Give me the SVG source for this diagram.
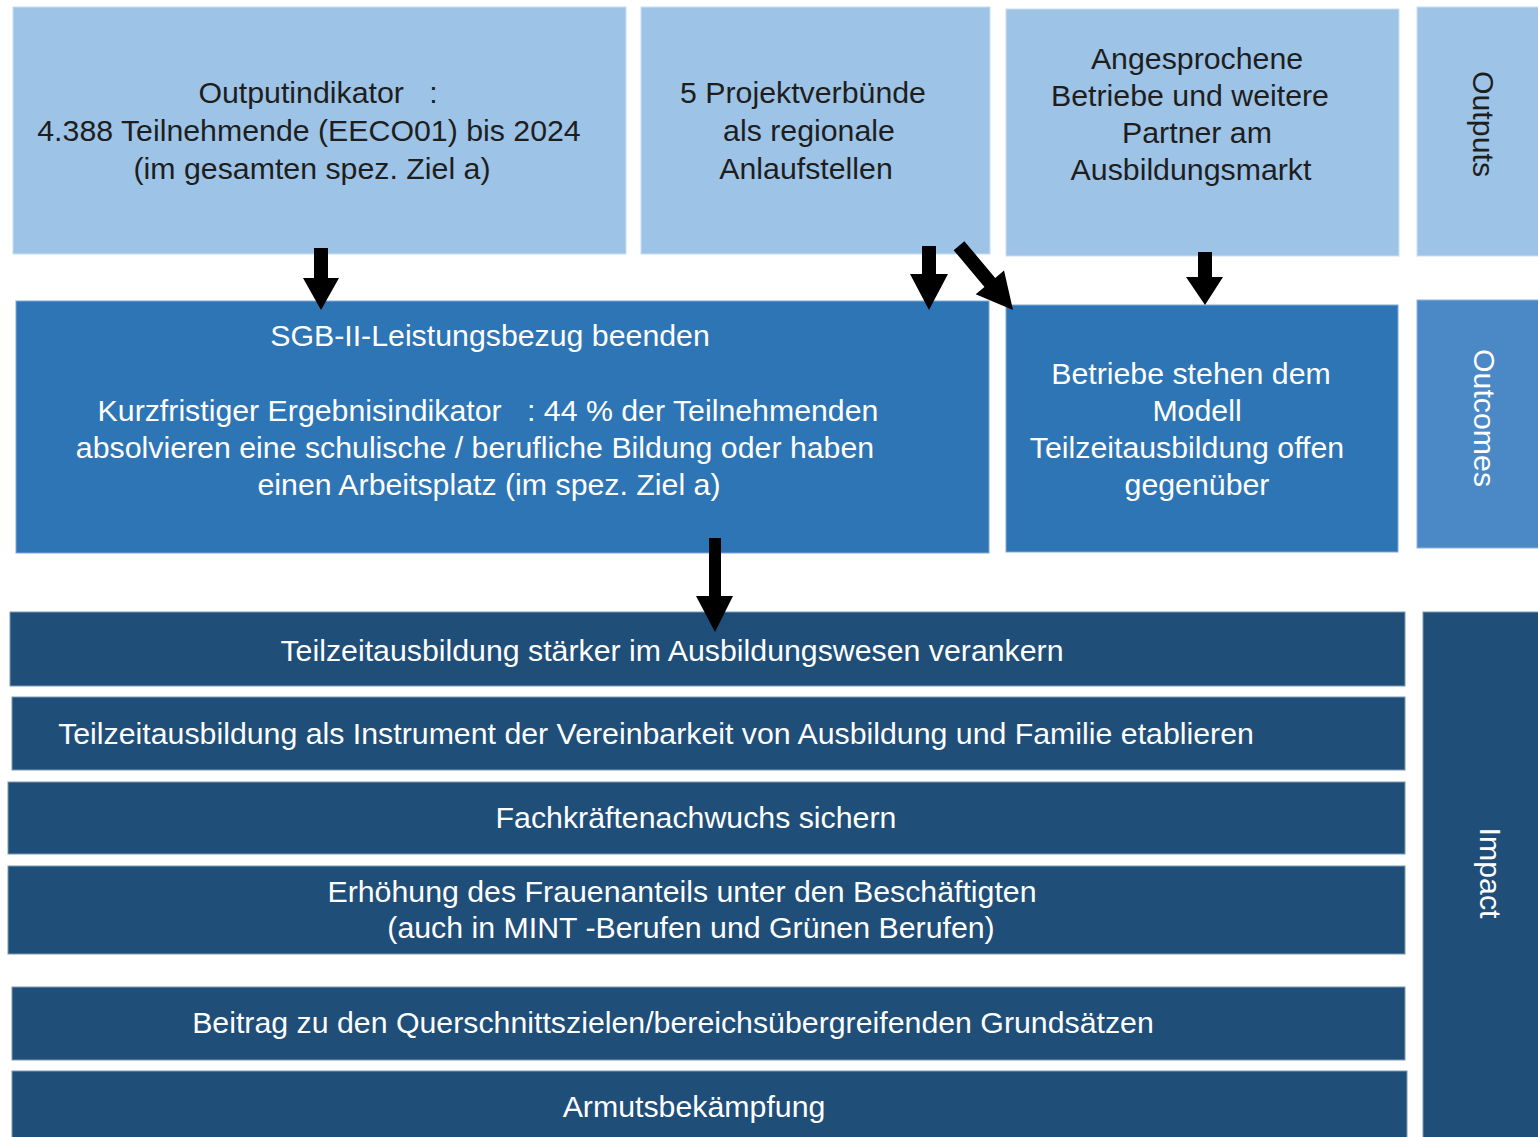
<svg xmlns="http://www.w3.org/2000/svg" width="1538" height="1137" viewBox="0 0 1538 1137">
  <style>
    .out { fill: #9dc3e6; stroke: #c9def2; stroke-width: 1; }
    .oc { fill: #2e75b6; stroke: #7fa9d6; stroke-width: 1; }
    .oclabel { fill: #4a89c6; stroke: #8cb3dc; stroke-width: 1; }
    .imp { fill: #1f4e79; stroke: #7d9ab6; stroke-width: 1; }
    text { font-family: "Liberation Sans", Arial, sans-serif; font-size: 30.3px; text-anchor: middle; white-space: pre; }
    .dark { fill: #1e1e1e; }
    .light { fill: #ffffff; }
    .arrow { fill: #000000; }
  </style>

  <!-- Outputs row -->
  <g id="output-indicator">
    <rect class="out" x="13" y="7" width="613" height="247"/>
    <text class="dark" x="318" y="103" xml:space="preserve">Outputindikator   :</text>
    <text class="dark" x="309" y="141">4.388 Teilnehmende (EECO01) bis 2024</text>
    <text class="dark" x="312" y="179">(im gesamten spez. Ziel a)</text>
  </g>
  <g id="projektverbuende">
    <rect class="out" x="641" y="7" width="349" height="247"/>
    <text class="dark" x="803" y="103">5 Projektverbünde</text>
    <text class="dark" x="809" y="141">als regionale</text>
    <text class="dark" x="806" y="179">Anlaufstellen</text>
  </g>
  <g id="angesprochene-betriebe">
    <rect class="out" x="1006" y="9" width="393" height="247"/>
    <text class="dark" x="1197" y="69">Angesprochene</text>
    <text class="dark" x="1190" y="106">Betriebe und weitere</text>
    <text class="dark" x="1197" y="143">Partner am</text>
    <text class="dark" x="1191" y="180">Ausbildungsmarkt</text>
  </g>
  <g id="label-outputs">
    <rect class="out" x="1417" y="7" width="125" height="249"/>
    <text class="dark" transform="translate(1473,124) rotate(90)">Outputs</text>
  </g>

  <!-- Outcomes row -->
  <g id="sgb-ii">
    <rect class="oc" x="16" y="301" width="973" height="252"/>
    <text class="light" x="490" y="346">SGB-II-Leistungsbezug beenden</text>
    <text class="light" x="488" y="421" xml:space="preserve">Kurzfristiger Ergebnisindikator   : 44 % der Teilnehmenden</text>
    <text class="light" x="475" y="458">absolvieren eine schulische / berufliche Bildung oder haben</text>
    <text class="light" x="489" y="495">einen Arbeitsplatz (im spez. Ziel a)</text>
  </g>
  <g id="betriebe-offen">
    <rect class="oc" x="1006" y="305" width="392" height="247"/>
    <text class="light" x="1191" y="384">Betriebe stehen dem</text>
    <text class="light" x="1197" y="421">Modell</text>
    <text class="light" x="1187" y="458">Teilzeitausbildung offen</text>
    <text class="light" x="1197" y="495">gegenüber</text>
  </g>
  <g id="label-outcomes">
    <rect class="oclabel" x="1417" y="300" width="125" height="248"/>
    <text class="light" transform="translate(1474,418) rotate(90)">Outcomes</text>
  </g>

  <!-- Impact rows -->
  <g id="impact-1">
    <rect class="imp" x="10" y="612" width="1395" height="74"/>
    <text class="light" x="672" y="661">Teilzeitausbildung stärker im Ausbildungswesen verankern</text>
  </g>
  <g id="impact-2">
    <rect class="imp" x="12" y="697" width="1393" height="73"/>
    <text class="light" x="656" y="744">Teilzeitausbildung als Instrument der Vereinbarkeit von Ausbildung und Familie etablieren</text>
  </g>
  <g id="impact-3">
    <rect class="imp" x="8" y="782" width="1397" height="72"/>
    <text class="light" x="696" y="828">Fachkräftenachwuchs sichern</text>
  </g>
  <g id="impact-4">
    <rect class="imp" x="8" y="866" width="1397" height="88"/>
    <text class="light" x="682" y="902">Erhöhung des Frauenanteils unter den Beschäftigten</text>
    <text class="light" x="691" y="938">(auch in MINT -Berufen und Grünen Berufen)</text>
  </g>
  <g id="impact-5">
    <rect class="imp" x="12" y="987" width="1393" height="73"/>
    <text class="light" x="673" y="1033">Beitrag zu den Querschnittszielen/bereichsübergreifenden Grundsätzen</text>
  </g>
  <g id="impact-6">
    <rect class="imp" x="12" y="1071" width="1395" height="70"/>
    <text class="light" x="694" y="1117">Armutsbekämpfung</text>
  </g>
  <g id="label-impact">
    <rect class="imp" x="1423" y="612" width="119" height="529"/>
    <text class="light" transform="translate(1480,873) rotate(90)">Impact</text>
  </g>

  <!-- Connectors: block arrows -->
  <g id="connectors">
    <polygon class="arrow" points="314,248 328,248 328,278 339,278 321,310 303,278 314,278"/>
    <polygon class="arrow" points="922,246 936,246 936,274 948,274 929,310 910,274 922,274"/>
    <polygon class="arrow" transform="translate(1013,310) rotate(-40)" points="-7,-84 7,-84 7,-36 18.5,-36 0,0 -18.5,-36 -7,-36"/>
    <polygon class="arrow" points="1198,252 1212,252 1212,277 1223,277 1205,305 1186,277 1198,277"/>
    <polygon class="arrow" points="709,538 721,538 721,596 733,596 715,632 696,596 709,596"/>
  </g>
</svg>
